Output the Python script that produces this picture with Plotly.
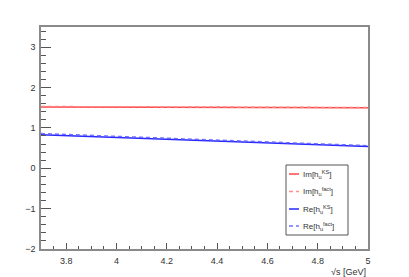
import plotly.graph_objects as go

# Data
sqrt_s = [3.7, 4.0, 4.3, 4.6, 5.0]
im_ks = [1.52, 1.515, 1.51, 1.505, 1.50]
im_fact = [1.53, 1.52, 1.515, 1.51, 1.505]
re_ks = [0.83, 0.76, 0.69, 0.62, 0.54]
re_fact = [0.86, 0.79, 0.72, 0.64, 0.56]

series_names = ["Im[h<sub>u</sub><sup>KS</sup>]", "Im[h<sub>u</sub><sup>fact</sup>]",
                "Re[h<sub>u</sub><sup>KS</sup>]", "Re[h<sub>u</sub><sup>fact</sup>]"]

x_ticks = [3.8, 4.0, 4.2, 4.4, 4.6, 4.8, 5.0]
x_ticklabels = ["3.8", "4", "4.2", "4.4", "4.6", "4.8", "5"]
y_ticks = [-2, -1, 0, 1, 2, 3]

FONT = "Liberation Sans, Arial, sans-serif"
AXC = "#8a8a8a"
TXT = "#333333"

styles = [
    dict(color="rgb(255,70,70)", width=1.5, dash="solid"),
    dict(color="rgba(255,130,130,0.9)", width=1.5, dash="4px,3px"),
    dict(color="rgb(40,40,255)", width=1.5, dash="solid"),
    dict(color="rgba(100,100,255,0.9)", width=1.5, dash="4px,3px"),
]

fig = go.Figure()
for name, ys, st in zip(series_names, [im_ks, im_fact, re_ks, re_fact], styles):
    fig.add_trace(go.Scatter(x=sqrt_s, y=ys, mode="lines", name=name, line=st,
                             showlegend=False))

# Plot-area geometry in pixels (for the hand-drawn ROOT-style legend)
W, H = 409, 277
ML, MR, MT, MB = 41, 41, 27, 28
PW, PH = W - ML - MR, H - MT - MB


def px(xp):
    return (xp - ML) / PW


def py(yp):
    return (H - MB - yp) / PH


fig.update_layout(
    width=W, height=H,
    margin=dict(l=ML, r=MR, t=MT, b=MB),
    paper_bgcolor="white", plot_bgcolor="white",
    font=dict(family=FONT, size=9, color=TXT),
    showlegend=False,
    xaxis=dict(range=[3.7, 5.0], tickvals=x_ticks, ticktext=x_ticklabels,
               ticks="inside", ticklen=6, tickcolor="#555555", tickwidth=1,
               minor=dict(dtick=0.05, tick0=3.7, ticks="inside", ticklen=3, tickcolor="#555555"),
               showline=True, linecolor=AXC, linewidth=1.5, mirror=True,
               showgrid=False, zeroline=False, ticklabelstandoff=2,
               tickfont=dict(size=9, color=TXT)),
    yaxis=dict(range=[-2, 3.5], tickvals=y_ticks,
               ticks="inside", ticklen=10, tickcolor="#555555", tickwidth=1,
               minor=dict(dtick=0.2, tick0=-2, ticks="inside", ticklen=5, tickcolor="#555555"),
               showline=True, linecolor=AXC, linewidth=1.5, mirror=True,
               showgrid=False, zeroline=False, ticklabelstandoff=2,
               tickfont=dict(size=9, color=TXT)),
)

# Legend box
fig.add_shape(type="rect", xref="paper", yref="paper",
              x0=px(286), x1=px(348), y0=py(235), y1=py(165),
              line=dict(color="#555555", width=1), fillcolor="white", layer="above")
row_y = [174, 191.5, 209, 226]
for name, st, ry in zip(series_names, styles, row_y):
    fig.add_shape(type="line", xref="paper", yref="paper",
                  x0=px(289), x1=px(299), y0=py(ry), y1=py(ry),
                  line=st, layer="above")
    fig.add_annotation(text=name, xref="paper", yref="paper", x=px(301), y=py(ry),
                       xanchor="left", yanchor="middle", showarrow=False,
                       font=dict(size=8, color=TXT))

fig.add_annotation(text="√s [GeV]", xref="paper", yref="paper", x=1.0, y=-0.07,
                   xanchor="right", yanchor="top", showarrow=False,
                   font=dict(size=9, color=TXT))

fig.write_html("out.html", config={"displayModeBar": False},
               post_script="document.body.style.margin='0';")
